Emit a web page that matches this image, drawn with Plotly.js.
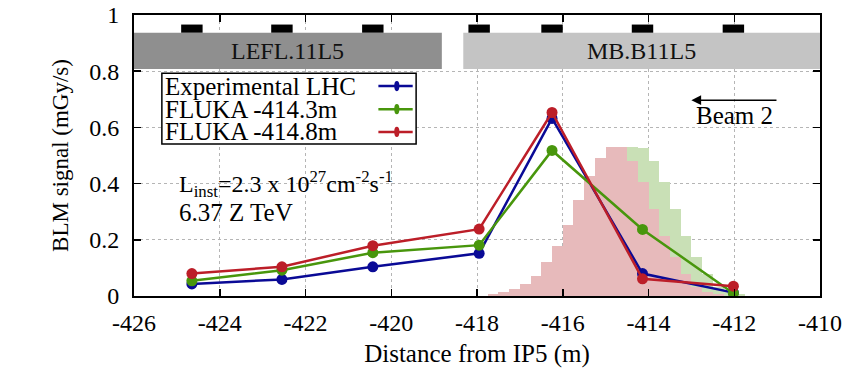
<!DOCTYPE html>
<html>
<head>
<meta charset="utf-8">
<script src="https://cdn.plot.ly/plotly-3.0.1.min.js"></script>
<style>html,body{margin:0;padding:0;background:#fff;}#chart{width:848px;height:368px;}</style>
</head>
<body>
<div id="chart"></div>
<script>
// ---- data ----
const blmPos = [-424.65, -422.55, -420.43, -417.95, -416.25, -414.14, -412.02];
const expLHC = [0.043, 0.059, 0.104, 0.152, 0.632, 0.080, 0.012];
const fluka3 = [0.054, 0.092, 0.154, 0.181, 0.518, 0.237, 0.010];
const fluka8 = [0.080, 0.104, 0.179, 0.238, 0.653, 0.061, 0.035];
const seriesNames = ['Experimental LHC', 'FLUKA -414.3m', 'FLUKA -414.8m'];

// impact distributions (bin left edges, heights)
const pinkEdges = [-417.75,-417.5,-417.25,-417,-416.75,-416.5,-416.25,-416,-415.75,-415.5,-415.25,-415,-414.75,-414.5,-414.25,-414,-413.75,-413.5,-413.25,-413,-412.75,-412.5];
const pinkVals  = [0.008,0.016,0.024,0.042,0.072,0.120,0.178,0.252,0.340,0.428,0.492,0.531,0.529,0.479,0.404,0.310,0.215,0.138,0.079,0.031,0.013,0.008];
const greenEdges = [-417.25,-417,-416.75,-416.5,-416.25,-416,-415.75,-415.5,-415.25,-415,-414.75,-414.5,-414.25,-414,-413.75,-413.5,-413.25,-413,-412.75,-412.5,-412.25,-412];
const greenVals  = [0.008,0.016,0.024,0.042,0.072,0.120,0.178,0.252,0.340,0.428,0.492,0.530,0.527,0.479,0.404,0.310,0.215,0.138,0.079,0.031,0.013,0.008];
const binWidth = 0.25;

// magnets
const magnetNames = ['LEFL.11L5', 'MB.B11L5'];
const magnetStart = [-426, -418.32];
const magnetEnd = [-418.82, -410];
const magnetColors = ['#8f8f8f', '#c4c4c4'];

const xTickVals = [-426,-424,-422,-420,-418,-416,-414,-412,-410];
const xTickText = ['-426','-424','-422','-420','-418','-416','-414','-412','-410'];

const FONT = '"Liberation Serif", "Times New Roman", serif';
const cBlue = 'rgb(10,10,150)', cGreen = 'rgb(72,150,12)', cRed = 'rgb(188,30,40)';
const colors = [cBlue, cGreen, cRed];
const series = [expLHC, fluka3, fluka8];

const traces = [
  {type:'bar', x: greenEdges, y: greenVals, width: binWidth, offset: 0,
   marker:{color:'rgb(201,224,182)', line:{width:0}}, showlegend:false, hoverinfo:'skip'},
  {type:'bar', x: pinkEdges, y: pinkVals, width: binWidth, offset: 0,
   marker:{color:'rgb(231,186,187)', line:{width:0}}, showlegend:false, hoverinfo:'skip'}
];
series.forEach((s, i) => traces.push({
  type:'scatter', mode:'lines+markers', x: blmPos, y: s, name: seriesNames[i],
  line:{color: colors[i], width: 2.5}, marker:{color: colors[i], size: 11}, showlegend:false
}));

const shapes = [];
const annotations = [];
// magnet boxes
magnetNames.forEach((n, i) => {
  shapes.push({type:'rect', xref:'x', yref:'y', x0: magnetStart[i], x1: magnetEnd[i], y0: 0.808, y1: 0.937,
    fillcolor: magnetColors[i], line:{width:0}, layer:'above'});
  annotations.push({xref:'x', yref:'y', x:(magnetStart[i]+magnetEnd[i])/2, y:0.872, text:n, showarrow:false,
    font:{family:FONT, size:24, color:'#111'}});
});
// BLM position markers
blmPos.forEach(p => shapes.push({type:'rect', xref:'x', yref:'y', x0: p-0.25, x1: p+0.25, y0: 0.937, y1: 0.966,
  fillcolor:'#000', line:{width:0}, layer:'above'}));

// custom legend (text left, sample right)
shapes.push({type:'rect', xref:'x', yref:'y', x0:-425.35, x1:-419.42, y0:0.541, y1:0.793,
  fillcolor:'#fff', line:{color:'#000', width:1.5}, layer:'above'});
const legY = [0.747, 0.665, 0.584];
seriesNames.forEach((n, i) => {
  annotations.push({xref:'x', yref:'y', x:-425.33, y:legY[i], xanchor:'left', yanchor:'middle', text:n,
    showarrow:false, font:{family:FONT, size:25, color:'#000'}});
  shapes.push({type:'line', xref:'x', yref:'y', x0:-420.3, x1:-419.5, y0:legY[i], y1:legY[i],
    line:{color:colors[i], width:2.5}, layer:'above'});
  shapes.push({type:'circle', xref:'x', yref:'y', x0:-419.87-0.06, x1:-419.87+0.06, y0:legY[i]-0.018, y1:legY[i]+0.018,
    fillcolor:colors[i], line:{width:0}, layer:'above'});
});

// beam arrow
annotations.push({xref:'x', yref:'y', axref:'x', ayref:'y', x:-413.0, y:0.697, ax:-410.98, ay:0.697, text:'',
  showarrow:true, arrowhead:2, arrowsize:1.3, arrowwidth:1.5, arrowcolor:'#000'});
annotations.push({xref:'x', yref:'y', x:-411.99, y:0.643, text:'Beam 2', showarrow:false,
  font:{family:FONT, size:25, color:'#000'}});
// luminosity text
annotations.push({xref:'x', yref:'y', x:-425.0, y:0.40, xanchor:'left', yanchor:'middle',
  text:'L<sub>inst</sub>=2.3 x 10<sup>27</sup>cm<sup>-2</sup>s<sup>-1</sup>', showarrow:false,
  font:{family:FONT, size:24, color:'#000'}});
annotations.push({xref:'x', yref:'y', x:-425.0, y:0.297, xanchor:'left', yanchor:'middle',
  text:'6.37 Z TeV', showarrow:false, font:{family:FONT, size:25, color:'#000'}});

const layout = {
  width:848, height:368,
  margin:{l:134, r:28, t:15, b:72},
  paper_bgcolor:'#fff', plot_bgcolor:'#fff',
  barmode:'overlay', bargap:0,
  showlegend:false,
  font:{family:FONT, color:'#000'},
  xaxis:{range:[-426,-410], tickvals:xTickVals, ticktext:xTickText, ticks:'inside', ticklen:7, tickwidth:1.5,
    tickcolor:'#000', showline:true, linecolor:'#000', linewidth:2, mirror:'ticks', zeroline:false,
    showgrid:true, gridcolor:'#b5b5b5', griddash:'dot', gridwidth:1,
    tickfont:{family:FONT, size:24, color:'#000'}, ticklabelstandoff:4,
    title:{text:'Distance from IP5 (m)', font:{family:FONT, size:25, color:'#000'}, standoff:12}},
  yaxis:{range:[0,1], dtick:0.2, tick0:0, ticks:'inside', ticklen:7, tickwidth:1.5, tickcolor:'#000',
    showline:true, linecolor:'#000', linewidth:2, mirror:'ticks', zeroline:false,
    showgrid:true, gridcolor:'#b5b5b5', griddash:'dot', gridwidth:1,
    tickfont:{family:FONT, size:24, color:'#000'}, ticklabelstandoff:8,
    title:{text:'BLM signal (mGy/s)', font:{family:FONT, size:23, color:'#000'}, standoff:14}},
  shapes: shapes,
  annotations: annotations
};

Plotly.newPlot('chart', traces, layout, {displayModeBar:false, staticPlot:true});
</script>
</body>
</html>
